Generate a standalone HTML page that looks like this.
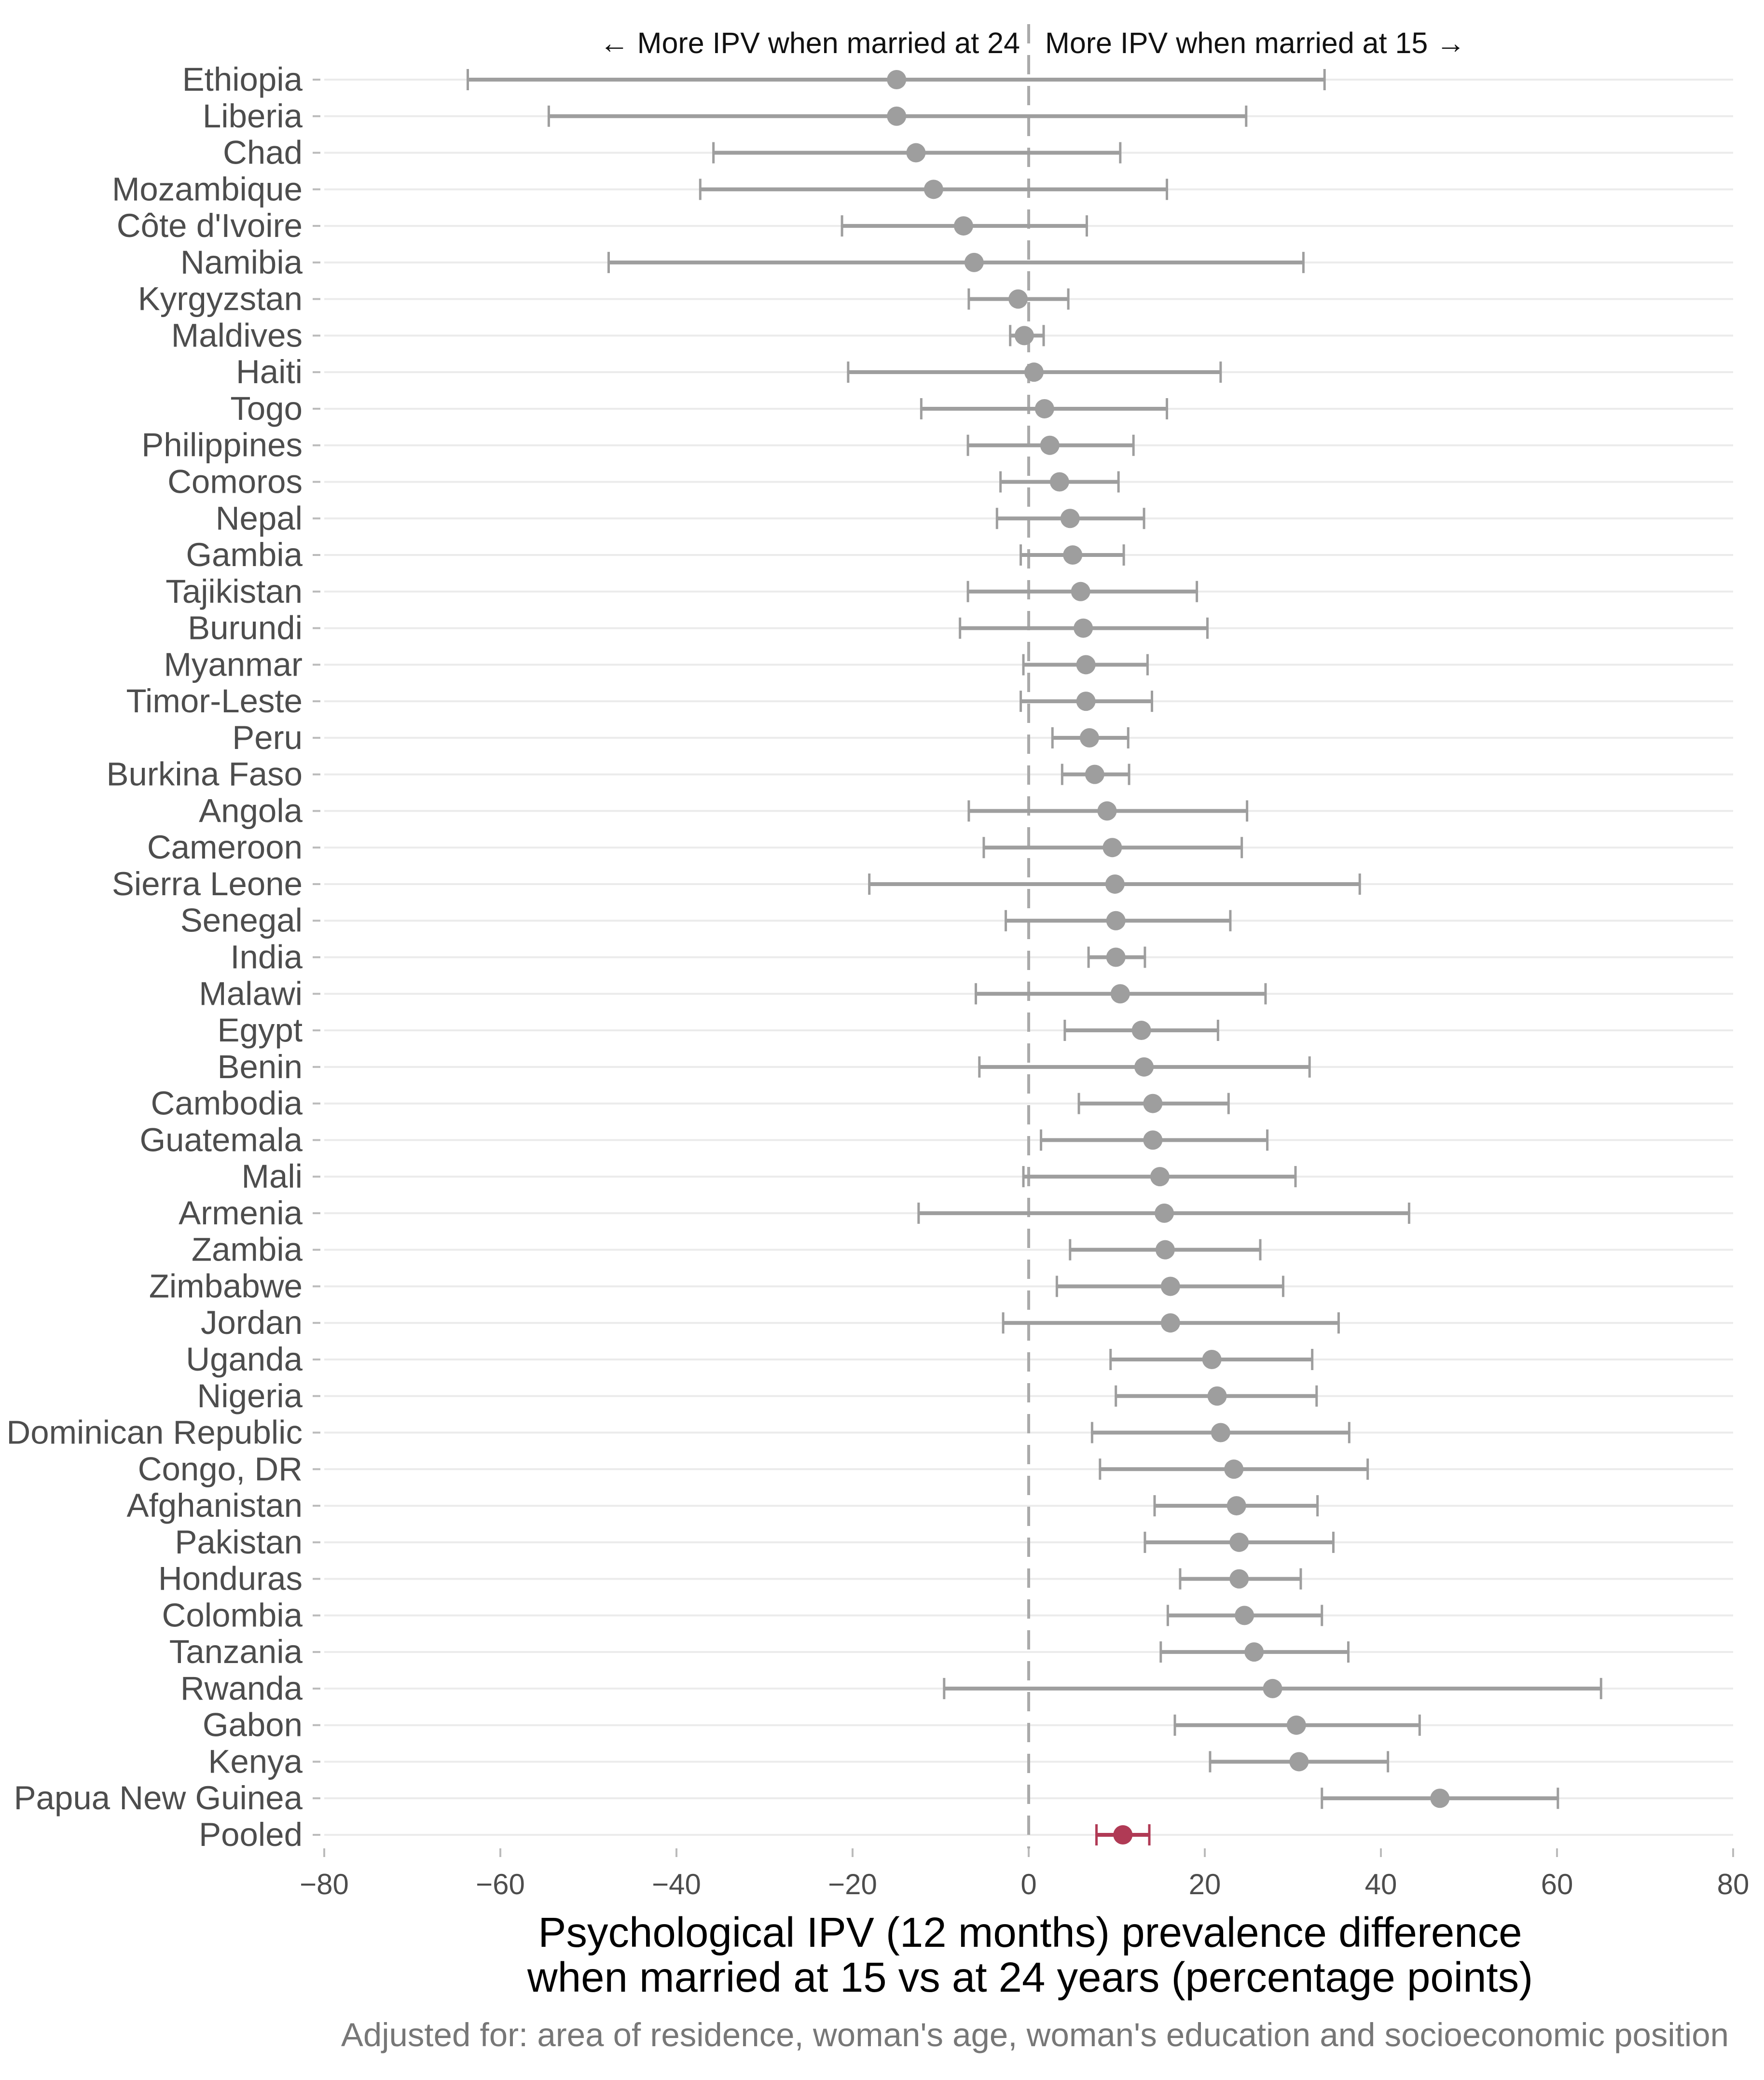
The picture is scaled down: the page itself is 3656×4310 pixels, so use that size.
<!DOCTYPE html>
<html><head><meta charset="utf-8"><style>
body{margin:0;background:#fff}
svg{display:block;font-family:"Liberation Sans",Arial,sans-serif}
</style></head><body>
<svg id="chart" width="3656" height="4310" viewBox="0 0 3656 4310" xmlns="http://www.w3.org/2000/svg">
<rect width="3656" height="4310" fill="#fff"/>
<g id="grid"></g><g id="zero"></g><g id="marks"></g><g id="ylabels"></g><g id="xticks"></g>
<text x="2114" y="110" font-size="61" text-anchor="end" fill="#111">← More IPV when married at 24</text>
<text x="2166" y="110" font-size="61" text-anchor="start" fill="#111">More IPV when married at 15 →</text>
<text x="2135" y="4034" font-size="87" text-anchor="middle" fill="#000">Psychological IPV (12 months) prevalence difference</text>
<text x="2135" y="4127" font-size="87" text-anchor="middle" fill="#000">when married at 15 vs at 24 years (percentage points)</text>
<text x="3583" y="4240" font-size="69" text-anchor="end" fill="#777">Adjusted for: area of residence, woman's age, woman's education and socioeconomic position</text>
</svg>
<script>
const countries=["Ethiopia","Liberia","Chad","Mozambique","Côte d'Ivoire","Namibia","Kyrgyzstan","Maldives","Haiti","Togo","Philippines","Comoros","Nepal","Gambia","Tajikistan","Burundi","Myanmar","Timor-Leste","Peru","Burkina Faso","Angola","Cameroon","Sierra Leone","Senegal","India","Malawi","Egypt","Benin","Cambodia","Guatemala","Mali","Armenia","Zambia","Zimbabwe","Jordan","Uganda","Nigeria","Dominican Republic","Congo, DR","Afghanistan","Pakistan","Honduras","Colombia","Tanzania","Rwanda","Gabon","Kenya","Papua New Guinea","Pooled"];
const estimate=[-15,-15,-12.8,-10.8,-7.4,-6.2,-1.2,-0.5,0.6,1.8,2.4,3.5,4.7,5,5.9,6.2,6.5,6.5,6.9,7.5,8.9,9.5,9.8,9.9,9.9,10.4,12.8,13.1,14.1,14.1,14.9,15.4,15.5,16.1,16.1,20.8,21.4,21.8,23.3,23.6,23.9,23.9,24.5,25.6,27.7,30.4,30.7,46.7,10.7];
const lower=[-63.7,-54.5,-35.8,-37.3,-21.2,-47.7,-6.8,-2.1,-20.5,-12.2,-6.9,-3.2,-3.6,-0.9,-6.9,-7.8,-0.6,-0.9,2.7,3.8,-6.8,-5.1,-18.1,-2.6,6.8,-6,4.1,-5.6,5.7,1.4,-0.6,-12.5,4.7,3.2,-2.9,9.3,9.9,7.2,8.1,14.3,13.2,17.2,15.8,15,-9.6,16.6,20.6,33.3,7.7];
const upper=[33.6,24.7,10.4,15.7,6.6,31.2,4.5,1.7,21.8,15.7,11.9,10.2,13.1,10.8,19.1,20.3,13.5,14,11.3,11.4,24.8,24.2,37.6,22.9,13.2,26.9,21.5,31.9,22.7,27.1,30.3,43.2,26.3,28.9,35.2,32.2,32.7,36.4,38.5,32.8,34.6,30.9,33.3,36.3,65,44.4,40.8,60.1,13.7];
const xTicks=[-80,-60,-40,-20,0,20,40,60,80];
const X0=672,X1=3592,Y0=165,Y1=3802;
const xs=v=>X0+(v+80)/160*(X1-X0);
const ys=i=>Y0+i*(Y1-Y0)/(countries.length-1);
const NS="http://www.w3.org/2000/svg";
function mk(t,a,p){const e=document.createElementNS(NS,t);for(const k in a)e.setAttribute(k,a[k]);p.appendChild(e);return e;}
const grid=document.getElementById('grid'),marks=document.getElementById('marks'),yl=document.getElementById('ylabels'),xt=document.getElementById('xticks'),zero=document.getElementById('zero');
const zl=mk('line',{x1:xs(0),x2:xs(0),y1:50,y2:3830,stroke:'#aaa','stroke-width':6,'stroke-dasharray':'40,24'},zero);


countries.forEach((c,i)=>{
  const y=ys(i);const pooled=c==="Pooled";const col=pooled?'#b03a55':'#9e9e9e';
  const g=mk('line',{x1:X0,x2:X1,y1:y,y2:y,stroke:'#ebebeb','stroke-width':4},grid);
  
  
  const tk=mk('line',{x1:648,x2:664,y1:y,y2:y,stroke:'#bbb','stroke-width':4},grid);
  
  
  const t=mk('text',{x:627,y:y+23,'font-size':69,'text-anchor':'end',fill:'#4d4d4d'},yl);t.textContent=c;
  
  
  const b=mk('line',{x1:xs(lower[i]),x2:xs(upper[i]),y1:y,y2:y,stroke:col,'stroke-width':8},marks);
  
  
  [lower[i],upper[i]].forEach(v=>{const cp=mk('line',{x1:xs(v),x2:xs(v),y1:y-22,y2:y+22,stroke:col,'stroke-width':5},marks);
  
  });
  const p=mk('circle',{cx:xs(estimate[i]),cy:y,r:20,fill:col},marks);
  
  
});
xTicks.forEach(v=>{
  const l=mk('line',{x1:xs(v),x2:xs(v),y1:3830,y2:3848,stroke:'#bbb','stroke-width':4},xt);
  
  
  const t=mk('text',{x:xs(v),y:3925,'font-size':60,'text-anchor':'middle',fill:'#4d4d4d'},xt);t.textContent=v<0?'−'+(-v):String(v);
  
  
});
</script>
</body></html>
